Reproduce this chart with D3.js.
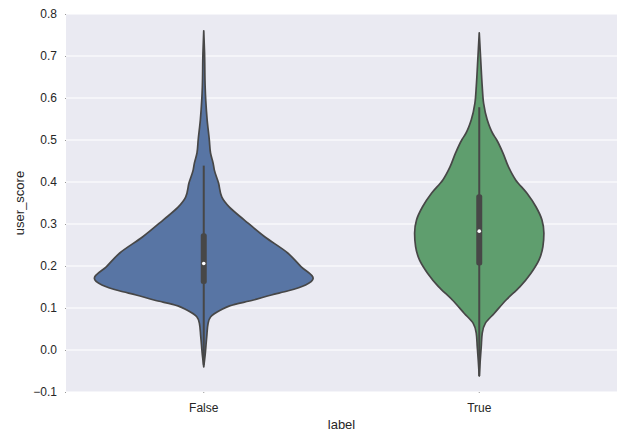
<!DOCTYPE html>
<html><head><meta charset="utf-8">
<script src="https://cdn.jsdelivr.net/npm/d3@7/dist/d3.min.js"></script>
<style>body{margin:0;background:#fff;} svg{display:block;} text{font-family:"Liberation Sans",Arial,sans-serif;fill:#262626;}</style>
</head><body>
<svg id="chart" width="620" height="432"></svg>
<script>
const categories = ["False", "True"];
const yTicks = [-0.1, 0.0, 0.1, 0.2, 0.3, 0.4, 0.5, 0.6, 0.7, 0.8];
const falseProfile = [[0.760,0],[0.707,0.04],[0.627,0.07],[0.595,0.10],[0.548,0.17],[0.500,0.28],[0.469,0.34],[0.445,0.47],[0.429,0.53],[0.398,0.74],[0.364,0.91],[0.340,1.29],[0.310,2.03],[0.269,3.08],[0.231,4.22],[0.198,4.90],[0.171,5.50],[0.155,5.12],[0.141,4.25],[0.131,3.40],[0.119,2.50],[0.105,1.30],[0.095,0.85],[0.079,0.35],[0.064,0.22],[0.032,0.15],[-0.016,0.06],[-0.040,0]];
const trueProfile = [[0.755,0],[0.667,0.10],[0.627,0.15],[0.587,0.22],[0.548,0.40],[0.516,0.67],[0.500,0.88],[0.468,1.20],[0.436,1.47],[0.405,1.83],[0.373,2.40],[0.341,2.85],[0.310,3.15],[0.278,3.25],[0.246,3.20],[0.214,3.00],[0.183,2.60],[0.151,2.05],[0.119,1.35],[0.087,0.75],[0.064,0.31],[0.040,0.15],[0.008,0.10],[-0.024,0.05],[-0.062,0]];
// box stats: [lowerWhisker, q1, median, q3, upperWhisker]
const falseBox = [-0.035, 0.157, 0.206, 0.278, 0.439];
const trueBox = [-0.062, 0.201, 0.283, 0.371, 0.578];
const colors = ["#5875a4", "#5f9e6e"];

const svg = d3.select("#chart");
const L = 66, R = 617, T = 14, B = 392;
const y = d3.scaleLinear().domain([-0.1, 0.8]).range([B, T]);
const x = d3.scaleBand().domain(categories).range([L, R]).padding(0);
const maxD = d3.max(falseProfile.concat(trueProfile), d => d[1]);
const w = d3.scaleLinear().domain([0, maxD]).range([0, x.bandwidth() * 0.4 - 0.8]);

svg.append("rect").attr("x", L).attr("y", T).attr("width", R - L).attr("height", B - T).attr("fill", "#eaeaf2");
svg.append("g").selectAll("line").data(yTicks).join("line")
  .attr("x1", L).attr("x2", R).attr("y1", d => y(d)).attr("y2", d => y(d))
  .attr("stroke", "#fff").attr("stroke-width", 1.2);

const yAxis = d3.axisLeft(y).tickValues(yTicks).tickSize(1).tickPadding(8)
  .tickFormat(d => d3.format(".1f")(d).replace("-", "\u2212"));
const gy = svg.append("g").attr("transform", `translate(${L},0)`).call(yAxis);
gy.select(".domain").remove();
gy.selectAll(".tick line").attr("stroke", "#999");
gy.selectAll("text").style("font-size", "12px").attr("fill", "#262626");

const xAxis = d3.axisBottom(x).tickSize(1).tickPadding(10);
const gx = svg.append("g").attr("transform", `translate(0,${B})`).call(xAxis);
gx.select(".domain").remove();
gx.selectAll(".tick line").attr("stroke", "#999");
gx.selectAll("text").style("font-size", "12px").attr("fill", "#262626");

const profiles = [falseProfile, trueProfile];
const boxes = [falseBox, trueBox];
const gray = "#474747";
categories.forEach((c, i) => {
  const cx = x(c) + x.bandwidth() / 2;
  const area = d3.area().curve(d3.curveMonotoneY)
    .y(d => y(d[0])).x0(d => cx - w(d[1])).x1(d => cx + w(d[1]));
  const pts = profiles[i].slice().sort((a, b) => b[0] - a[0]);
  svg.append("path").datum(pts).attr("d", area)
    .attr("fill", colors[i]).attr("stroke", gray).attr("stroke-width", 1.7).attr("stroke-linejoin", "round");
  const b = boxes[i];
  svg.append("line").attr("x1", cx).attr("x2", cx).attr("y1", y(b[0])).attr("y2", y(b[4]))
    .attr("stroke", gray).attr("stroke-width", 2);
  svg.append("rect").attr("x", cx - 3).attr("width", 6).attr("y", y(b[3])).attr("height", y(b[1]) - y(b[3]))
    .attr("rx", 2.5).attr("fill", gray);
  svg.append("circle").attr("cx", cx).attr("cy", y(b[2])).attr("r", 1.8).attr("fill", "#fff");
});

svg.append("text").attr("x", (L + R) / 2).attr("y", 429).attr("text-anchor", "middle")
  .style("font-size", "13px").text("label");
svg.append("text").attr("transform", `translate(24,${(T + B) / 2}) rotate(-90)`).attr("text-anchor", "middle")
  .style("font-size", "13px").text("user_score");
</script>
</body></html>
